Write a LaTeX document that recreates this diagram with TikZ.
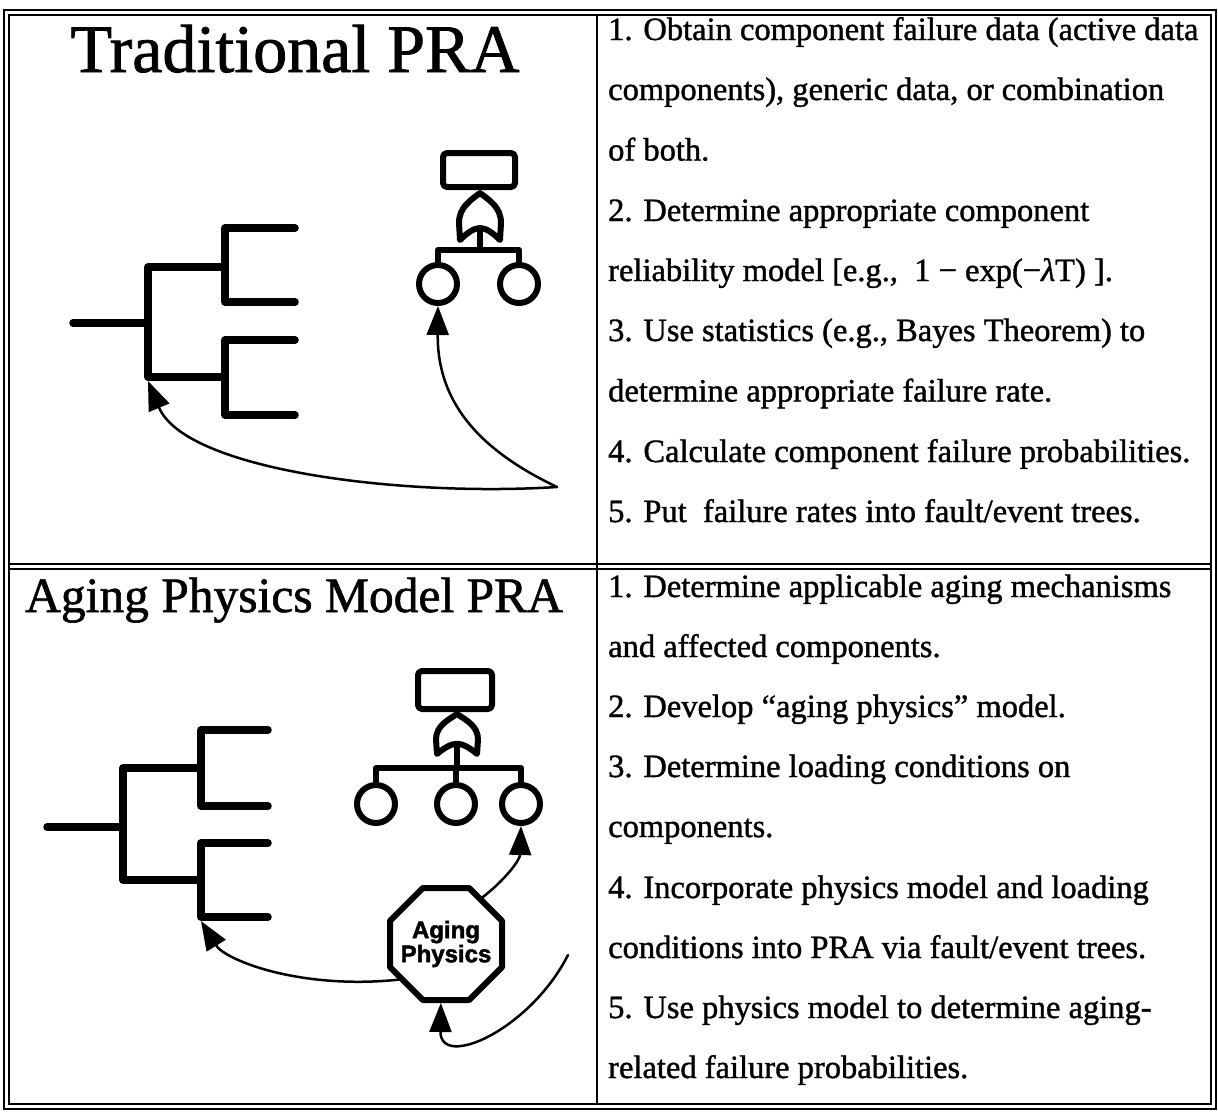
\documentclass[tikz,border=0pt]{standalone}
\usepackage{fontspec}
\setmainfont{Liberation Serif}[FakeBold=1.2]
\newfontfamily\octfont{Liberation Sans}[FakeBold=2]
\usetikzlibrary{arrows.meta}

% OR gate, drawn from its top point downwards
\tikzset{
  orgate/.pic={
    \draw[line width=6pt,line join=round]
      (0,0) .. controls (-9,7) and (-21,14) .. (-21,30) -- (-20,47)
      .. controls (-13,40) and (-6,35) .. (0,35)
      .. controls (6,35) and (13,40) .. (20,47) -- (21,30)
      .. controls (21,14) and (9,7) .. (0,0) -- cycle;
  }
}

\begin{document}
\begin{tikzpicture}[x=1pt,y=-1pt,
  frame/.style={line width=2pt},
  tree/.style={line width=7.5pt,line cap=round,line join=round},
  ft/.style={line width=6pt,line join=round},
  basic/.style={circle,draw,ft,minimum size=38pt,inner sep=0pt},
  topev/.style={draw,ft,rounded corners=4pt,inner sep=0pt},
  link/.style={line width=2.5pt,line cap=round,-{Triangle[length=29pt,width=22pt]}},
  listline/.style={anchor=base west,inner sep=0pt,font=\fontsize{32.5}{39}\selectfont},
]
\useasboundingbox (0,0) rectangle (1218,1111);
\fill[white] (0,0) rectangle (1218,1111);

% table frame
\draw[frame] (4,10) rectangle (1216,1109);
\draw[frame] (9,15) rectangle (1211,1104);
\draw[frame] (9,564) -- (1211,564);
\draw[frame] (9,569) -- (1211,569);
\draw[frame] (597,15) -- (597,1104);

% titles
\node[anchor=base,inner sep=0pt,font=\fontsize{68}{80}\selectfont] (t1) at (295,72) {Traditional PRA};
\node[anchor=base west,inner sep=0pt,font=\fontsize{49.5}{60}\selectfont] (t2) at (25,612) {Aging Physics Model PRA};

% traditional steps
\node[listline] (a1) at (608,40) {1. Obtain component failure data (active data};
\node[listline] (a2) at (608,100) {components), generic data, or combination};
\node[listline] (a3) at (608,160.5) {of both.};
\node[listline] (a4) at (608,221) {2. Determine appropriate component};
\node[listline] (a5) at (608,281) {reliability model [e.g.,\ \ 1 − exp(−{\itshape λ}T) ].};
\node[listline] (a6) at (608,341) {3. Use statistics (e.g., Bayes Theorem) to};
\node[listline] (a7) at (608,401.5) {determine appropriate failure rate.};
\node[listline] (a8) at (608,462) {4. Calculate component failure probabilities.};
\node[listline] (a9) at (608,522) {5. Put\ \ failure rates into fault/event trees.};

% aging physics steps
\node[listline] (b1) at (608,597) {1. Determine applicable aging mechanisms};
\node[listline] (b2) at (608,657) {and affected components.};
\node[listline] (b3) at (608,717) {2. Develop “aging physics” model.};
\node[listline] (b4) at (608,777) {3. Determine loading conditions on};
\node[listline] (b5) at (608,837) {components.};
\node[listline] (b6) at (608,898) {4. Incorporate physics model and loading};
\node[listline] (b7) at (608,958) {conditions into PRA via fault/event trees.};
\node[listline] (b8) at (608,1018) {5. Use physics model to determine aging-};
\node[listline] (b9) at (608,1078) {related failure probabilities.};

% ---- upper panel: event tree
\draw[tree] (73,323) -- (148,323);
\draw[tree] (225,267) -| (148,377) -- (225,377);
\draw[tree] (295,228) -| (225,302) -- (295,302);
\draw[tree] (295,340) -| (225,415) -- (295,415);
\coordinate (et1) at (148,381);

% ---- upper panel: fault tree
\node[topev,minimum width=72pt,minimum height=34pt] (g1) at (479,170) {};
\pic at (480,193) {orgate};
\node[basic] (c1) at (438,284) {};
\node[basic] (c2) at (519,284) {};
\draw[ft] (480,228) -- (480,250);
\draw[ft] (c1.north) -- (438,250) -- (519,250) -- (c2.north);

% ---- upper panel: links
\coordinate (k1) at (557,487);
\draw[link] (k1) .. controls (400,497) and (185,470) .. (et1);
\draw[link] (k1) .. controls (490,455) and (437,410) .. (c1.south);

% ---- lower panel: event tree
\draw[tree] (47,827) -- (123,827);
\draw[tree] (201,768) -| (123,880) -- (201,880);
\draw[tree] (268,730) -| (201,806) -- (268,806);
\draw[tree] (268,843) -| (201,917) -- (268,917);
\coordinate (et2) at (201,921);

% ---- lower panel: fault tree
\node[topev,minimum width=74pt,minimum height=38pt] (g2) at (455,690) {};
\pic[yscale=0.85] at (457,714) {orgate};
\node[basic] (d1) at (376,804) {};
\node[basic] (d2) at (456,804) {};
\node[basic] (d3) at (521,804) {};
\draw[ft] (457,744) -- (457,768);
\draw[ft] (d1.north) -- (376,768) -- (521,768) -- (d3.north);
\draw[ft] (d2.north) -- (456,768);

% ---- lower panel: aging physics model (octagon round a circular anchor node)
\node[circle,minimum size=118pt,inner sep=0pt,align=center,
      font=\octfont\bfseries\fontsize{24}{24}\selectfont] (oct) at (446,944) {Aging\\Physics};
\draw[ft] (422.8,888) -- (469.2,888) -- (502,920.8) -- (502,967.2)
  -- (469.2,1000) -- (422.8,1000) -- (390,967.2) -- (390,920.8) -- cycle;

% ---- lower panel: links
\coordinate (k2) at (568,955);
\draw[link] (oct.217) .. controls (300,990) and (225,960) .. (et2);
\draw[link] (oct.52) .. controls (505,880) and (520,860) .. (d3.south);
\draw[link] (k2) .. controls (530,1030) and (440,1070) .. (oct.265);
\end{tikzpicture}
\end{document}
